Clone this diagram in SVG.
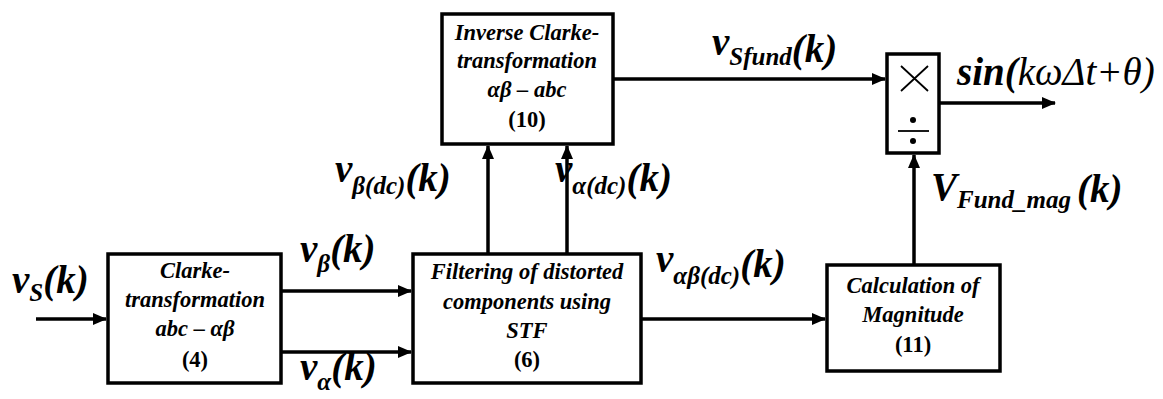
<svg xmlns="http://www.w3.org/2000/svg" width="1163" height="399" viewBox="0 0 1163 399" font-family="'Liberation Serif', Tinos, 'DejaVu Serif', serif">
  <style>
    .box { fill: #fff; stroke: #000; stroke-width: 3.5; }
    .wire { fill: none; stroke: #000; stroke-width: 3.5; }
    .thin { fill: none; stroke: #000; stroke-width: 1.8; }
    text { font-family: 'Liberation Serif', Tinos, 'DejaVu Serif', serif; }
    .bt { font-size: 22.5px; font-weight: bold; font-style: italic; text-anchor: middle; fill: #000; }
    .num { font-style: normal; }
    .lab { font-weight: bold; font-style: italic; fill: #000; font-size: 39px; }
    .sub { font-size: 25px; }
    .math { font-weight: normal; }
  </style>
  <defs>
    <marker id="arrow" markerUnits="userSpaceOnUse" markerWidth="14" markerHeight="12" refX="13" refY="6" orient="auto">
      <path d="M0,0 L14,6 L0,12 z" fill="#000"/>
    </marker>
  </defs>

  <!-- signal paths -->
  <g id="connectors">
    <path class="wire" d="M36,319 H106" marker-end="url(#arrow)"/>
    <path class="wire" d="M282,291 H411" marker-end="url(#arrow)"/>
    <path class="wire" d="M282,352 H411" marker-end="url(#arrow)"/>
    <path class="wire" d="M641,319 H825" marker-end="url(#arrow)"/>
    <path class="wire" d="M488,254 V146" marker-end="url(#arrow)"/>
    <path class="wire" d="M567,254 V146" marker-end="url(#arrow)"/>
    <path class="wire" d="M613,79 H885" marker-end="url(#arrow)"/>
    <path class="wire" d="M914,265 V155" marker-end="url(#arrow)"/>
    <path class="wire" d="M939,103 H1055" marker-end="url(#arrow)"/>
  </g>

  <!-- Clarke transformation -->
  <g id="clarke">
    <rect class="box" x="108" y="254" width="173" height="129"/>
    <text class="bt" x="195" y="278">Clarke-</text>
    <text class="bt" x="195" y="307">transformation</text>
    <text class="bt" x="195" y="336">abc – αβ</text>
    <text class="bt num" x="195" y="367">(4)</text>
  </g>

  <!-- STF filtering -->
  <g id="filter">
    <rect class="box" x="413" y="254" width="228" height="129"/>
    <text class="bt" x="527" y="279">Filtering of distorted</text>
    <text class="bt" x="527" y="309">components using</text>
    <text class="bt" x="527" y="338">STF</text>
    <text class="bt num" x="527" y="367">(6)</text>
  </g>

  <!-- Inverse Clarke transformation -->
  <g id="inverse-clarke">
    <rect class="box" x="442" y="14" width="171" height="130"/>
    <text class="bt" x="527" y="40">Inverse Clarke-</text>
    <text class="bt" x="527" y="68">transformation</text>
    <text class="bt" x="527" y="97">αβ – abc</text>
    <text class="bt num" x="527" y="127">(10)</text>
  </g>

  <!-- Magnitude calculation -->
  <g id="magnitude">
    <rect class="box" x="827" y="265" width="173" height="106"/>
    <text class="bt" x="913" y="293">Calculation of</text>
    <text class="bt" x="913" y="322">Magnitude</text>
    <text class="bt num" x="913" y="352">(11)</text>
  </g>

  <!-- Multiply / divide block -->
  <g id="muldiv">
    <rect class="box" x="887" y="54" width="52" height="99"/>
    <path class="thin" d="M901,66 L928,91 M928,66 L901,91"/>
    <path class="thin" d="M898,131 H929"/>
    <circle cx="913" cy="120" r="3" fill="#000"/>
    <circle cx="913" cy="141" r="3" fill="#000"/>
  </g>

  <!-- signal labels -->
  <g id="labels">
    <text class="lab" x="12" y="293">v<tspan class="sub" dy="8">S</tspan><tspan dy="-8">(k)</tspan></text>
    <text class="lab" x="300" y="262">v<tspan class="sub" dy="10">β</tspan><tspan dy="-10">(k)</tspan></text>
    <text class="lab" x="300" y="380">v<tspan class="sub" dy="10">α</tspan><tspan dy="-10">(k)</tspan></text>
    <text class="lab" x="335" y="182">v<tspan class="sub" dy="12">β(dc)</tspan><tspan dy="-3">(k)</tspan></text>
    <text class="lab" x="555" y="182">v<tspan class="sub" dy="12">α(dc)</tspan><tspan dy="-3">(k)</tspan></text>
    <text class="lab" x="656" y="272">v<tspan class="sub" dy="12">αβ(dc)</tspan><tspan dy="-7">(k)</tspan></text>
    <text class="lab" x="712" y="55">v<tspan class="sub" dy="10">Sfund</tspan><tspan dy="-3">(k)</tspan></text>
    <text class="lab" x="931" y="200">V<tspan class="sub" dy="8">Fund_mag</tspan><tspan dx="6" dy="-6">(k)</tspan></text>
    <text class="lab" x="957" y="85" font-size="32">sin(<tspan class="math">kωΔt+θ)</tspan></text>
  </g>
</svg>
